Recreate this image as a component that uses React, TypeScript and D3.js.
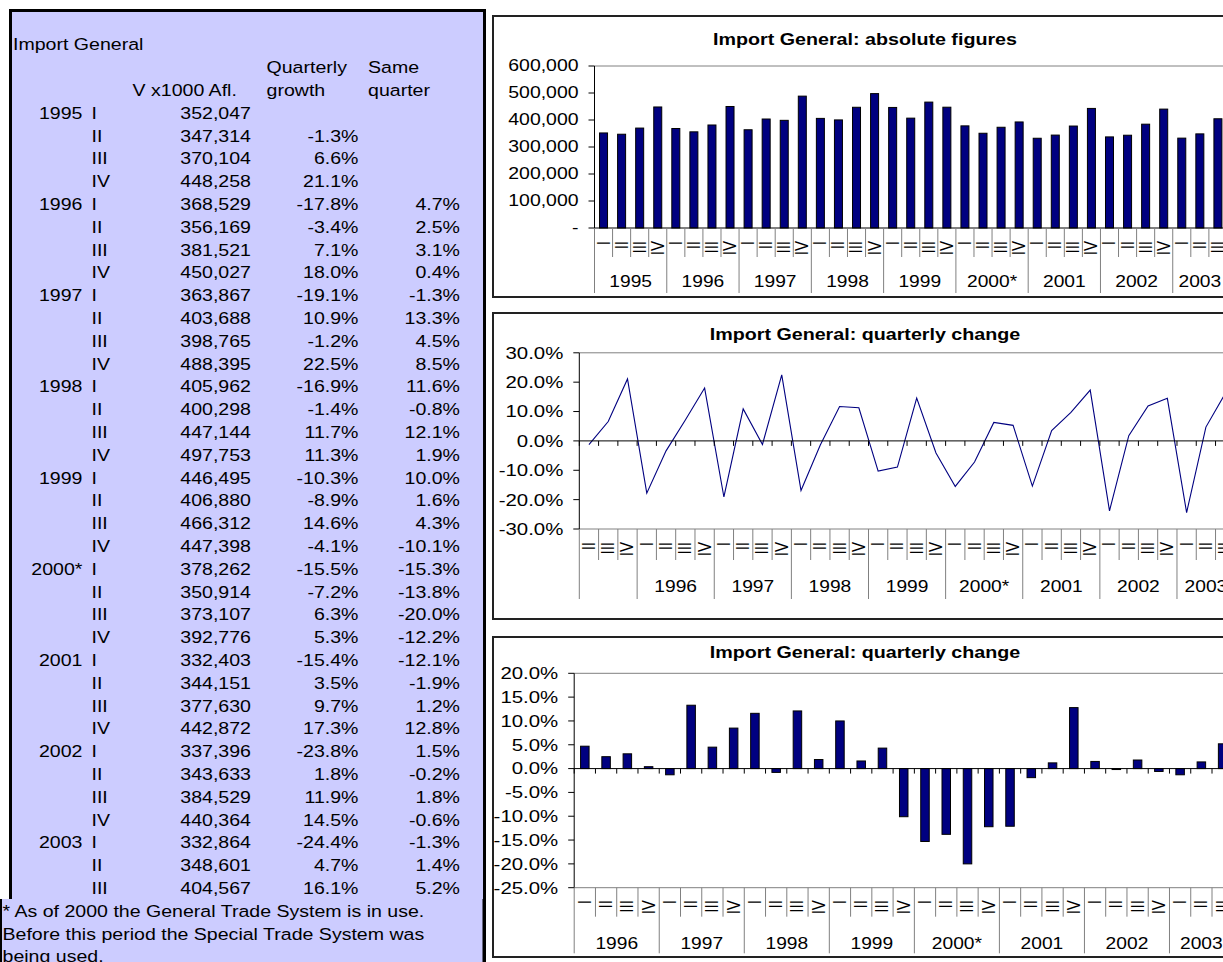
import React from 'react';
import * as d3 from 'd3';

// quarters 1995 I .. 2003 III
const yearLabels = ['1995', '1996', '1997', '1998', '1999', '2000*', '2001', '2002', '2003'];
const quarterLabels = ['I', 'II', 'III', 'IV'];

const importValues = [
  352047, 347314, 370104, 448258, 368529, 356169, 381521, 450027, 363867, 403688, 398765, 488395,
  405962, 400298, 447144, 497753, 446495, 406880, 466312, 447398, 378262, 350914, 373107, 392776,
  332403, 344151, 377630, 442872, 337396, 343633, 384529, 440364, 332864, 348601, 404567,
];
const quarterlyGrowth = [
  null, -1.3, 6.6, 21.1, -17.8, -3.4, 7.1, 18.0, -19.1, 10.9, -1.2, 22.5,
  -16.9, -1.4, 11.7, 11.3, -10.3, -8.9, 14.6, -4.1, -15.5, -7.2, 6.3, 5.3,
  -15.4, 3.5, 9.7, 17.3, -23.8, 1.8, 11.9, 14.5, -24.4, 4.7, 16.1,
];
const sameQuarter = [
  null, null, null, null, 4.7, 2.5, 3.1, 0.4, -1.3, 13.3, 4.5, 8.5,
  11.6, -0.8, 12.1, 1.9, 10.0, 1.6, 4.3, -10.1, -15.3, -13.8, -20.0, -12.2,
  -12.1, -1.9, 1.2, 12.8, 1.5, -0.2, 1.8, -0.6, -1.3, 1.4, 5.2,
];

const valueTicks = [0, 100000, 200000, 300000, 400000, 500000, 600000];
const growthTicks = [-30, -20, -10, 0, 10, 20, 30];
const sameTicks = [-25, -20, -15, -10, -5, 0, 5, 10, 15, 20];

const footnote = [
  '* As of 2000 the General Trade System is in use.',
  'Before this period the Special Trade System was',
  'being used.',
];

const FONT = "'Liberation Sans', Arial, Helvetica, sans-serif";
const SX = 1.2; // the picture is stretched sideways
const NAVY = '#000080';
const LAVENDER = '#CCCCFF';
const GRID = '#808080';

const periods = importValues.map((_, i) => ({ i, year: Math.floor(i / 4), q: i % 4 }));

const locale = d3.formatLocale({ decimal: '.', thousands: ',', grouping: [3], currency: ['', ''], minus: '-' });
const fmtNum = locale.format(',');
const fmtPct = (v: number) => locale.format('.1f')(v) + '%';

function Txt({ x, y, anchor = 'start', size = 16.3, bold = false, rotate = 0, children }: any) {
  return (
    <text
      transform={`translate(${x},${y}) scale(${SX},1)${rotate ? ` rotate(${rotate})` : ''}`}
      textAnchor={anchor}
      dominantBaseline="central"
      fontFamily={FONT}
      fontSize={size}
      fontWeight={bold ? 'bold' : 'normal'}
      fill="#000"
    >
      {children}
    </text>
  );
}

function Table() {
  const rowY = (i: number) => 113.4 + i * 22.8;
  return (
    <g>
      <rect x={10.5} y={10.5} width={474} height={1000} fill={LAVENDER} stroke="#000" strokeWidth={3} />
      <Txt x={13} y={45}>Import General</Txt>
      <Txt x={266.5} y={68}>Quarterly</Txt>
      <Txt x={368} y={68}>Same</Txt>
      <Txt x={132.5} y={91}>V x1000 Afl.</Txt>
      <Txt x={266.5} y={91}>growth</Txt>
      <Txt x={368} y={91}>quarter</Txt>
      {periods.map((p) => (
        <g key={p.i}>
          {p.q === 0 && <Txt x={82.5} y={rowY(p.i)} anchor="end">{yearLabels[p.year]}</Txt>}
          <Txt x={91.5} y={rowY(p.i)}>{quarterLabels[p.q]}</Txt>
          <Txt x={251} y={rowY(p.i)} anchor="end">{fmtNum(importValues[p.i])}</Txt>
          {quarterlyGrowth[p.i] != null && (
            <Txt x={358.5} y={rowY(p.i)} anchor="end">{fmtPct(quarterlyGrowth[p.i] as number)}</Txt>
          )}
          {sameQuarter[p.i] != null && (
            <Txt x={460} y={rowY(p.i)} anchor="end">{fmtPct(sameQuarter[p.i] as number)}</Txt>
          )}
        </g>
      ))}
      <rect x={1} y={899} width={484} height={80} fill={LAVENDER} />
      <line x1={1} x2={1} y1={899} y2={962} stroke="#000" strokeWidth={2} />
      <line x1={484} x2={484} y1={899} y2={962} stroke="#000" strokeWidth={3} />
      {footnote.map((t, k) => (
        <Txt key={k} x={2.5} y={911.4 + k * 22.8}>{t}</Txt>
      ))}
    </g>
  );
}

interface ChartProps {
  top: number;
  bottom: number;
  title: string;
  titleY: number;
  first: number;
  values: (number | null)[];
  domain: [number, number];
  ticks: number[];
  tickFmt: (v: number) => string;
  tickSize: number;
  x0: number;
  cw: number;
  plotTop: number;
  plotBottom: number;
  kind: 'bar' | 'line';
  barW: number;
  shortLen: number;
  longLen: number;
  labelDy: number;
  yearDy: number;
}

function Chart(c: ChartProps) {
  const idx = periods.filter((p) => p.i >= c.first);
  const n = idx.length;
  const x = d3
    .scaleBand()
    .domain(idx.map((p) => String(p.i)))
    .range([c.x0, c.x0 + n * c.cw])
    .padding(0);
  const y = d3.scaleLinear().domain(c.domain).range([c.plotBottom, c.plotTop]);
  const cx = (i: number) => (x(String(i)) as number) + x.bandwidth() / 2;
  const zeroY = y(0);
  const axisY = c.plotBottom;
  const right = c.x0 + n * c.cw;

  const line = d3
    .line<any>()
    .x((p) => cx(p.i))
    .y((p) => y(c.values[p.i] as number));

  const groups = d3.groups(idx, (p) => p.year);

  return (
    <g>
      <rect x={493} y={c.top} width={800} height={c.bottom - c.top} fill="#fff" stroke="#222" strokeWidth={2} />
      <Txt x={865} y={c.titleY} anchor="middle" size={16.4} bold>{c.title}</Txt>
      <line x1={c.x0} x2={right} y1={c.plotTop} y2={c.plotTop} stroke={GRID} />
      <line x1={right} x2={right} y1={c.plotTop} y2={c.plotBottom} stroke={GRID} />
      {c.ticks.map((t) => (
        <g key={t}>
          <line x1={c.x0 - 6} x2={c.x0} y1={y(t)} y2={y(t)} stroke="#000" />
          <Txt x={c.x0 - 16} y={y(t)} anchor="end" size={c.tickSize}>{c.tickFmt(t)}</Txt>
        </g>
      ))}
      {c.kind === 'bar' &&
        idx.map((p) => {
          const v = c.values[p.i] as number;
          return (
            <rect
              key={p.i}
              x={cx(p.i) - c.barW / 2}
              width={c.barW}
              y={Math.min(y(v), zeroY)}
              height={Math.abs(y(v) - zeroY)}
              fill={NAVY}
              stroke="#000"
              strokeWidth={1}
            />
          );
        })}
      {c.kind === 'line' && <path d={line(idx) as string} fill="none" stroke={NAVY} strokeWidth={1.1} />}
      {axisY !== zeroY && (
        <line x1={c.x0} x2={right} y1={axisY} y2={axisY} stroke={GRID} />
      )}
      {axisY !== zeroY &&
        d3.range(n + 1).map((k) => (
          <line key={k} x1={c.x0 + k * c.cw} x2={c.x0 + k * c.cw} y1={zeroY} y2={zeroY + 5} stroke="#000" />
        ))}
      <line x1={c.x0} x2={right} y1={zeroY} y2={zeroY} stroke="#000" />
      <line x1={c.x0} x2={c.x0} y1={c.plotTop} y2={c.plotBottom} stroke="#000" />
      {d3.range(n + 1).map((k) => {
        const isLong = k === 0 || k === n || idx[k].q === 0;
        const bx = c.x0 + k * c.cw;
        return (
          <line key={k} x1={bx} x2={bx} y1={axisY} y2={axisY + (isLong ? c.longLen : c.shortLen)} stroke={GRID} />
        );
      })}
      {idx.map((p) => (
        <Txt key={p.i} x={cx(p.i)} y={axisY + c.labelDy} anchor="end" size={15} rotate={-90}>
          {quarterLabels[p.q]}
        </Txt>
      ))}
      {groups.map(([yr, ps]) =>
        ps.some((p) => p.q === 0) ? (
          <Txt key={yr} x={d3.mean(ps, (p) => cx(p.i)) as number} y={axisY + c.yearDy} anchor="middle" size={16}>
            {yearLabels[yr]}
          </Txt>
        ) : null
      )}
    </g>
  );
}

export default function App() {
  return (
    <svg width={1223} height={962} style={{ position: 'absolute', left: 0, top: 0, background: '#fff' }}>
      <Table />
      <Chart
        top={16}
        bottom={297}
        title="Import General: absolute figures"
        titleY={39.5}
        first={0}
        values={importValues}
        domain={[0, 600000]}
        ticks={valueTicks}
        tickFmt={(v) => (v === 0 ? '- ' : fmtNum(v))}
        tickSize={16.2}
        x0={594.5}
        cw={18.07}
        plotTop={66}
        plotBottom={228}
        kind="bar"
        barW={8}
        shortLen={29}
        longLen={65}
        labelDy={13}
        yearDy={54}
      />
      <Chart
        top={313}
        bottom={619}
        title="Import General: quarterly change"
        titleY={335}
        first={1}
        values={quarterlyGrowth}
        domain={[-30, 30]}
        ticks={growthTicks}
        tickFmt={fmtPct}
        tickSize={17}
        x0={579.3}
        cw={19.28}
        plotTop={352.8}
        plotBottom={529}
        kind="line"
        barW={0}
        shortLen={31}
        longLen={70}
        labelDy={13}
        yearDy={58}
      />
      <Chart
        top={637}
        bottom={957}
        title="Import General: quarterly change"
        titleY={652.3}
        first={4}
        values={sameQuarter}
        domain={[-25, 20]}
        ticks={sameTicks}
        tickFmt={fmtPct}
        tickSize={17}
        x0={574.2}
        cw={21.26}
        plotTop={673.3}
        plotBottom={887.7}
        kind="bar"
        barW={8.5}
        shortLen={29}
        longLen={65.6}
        labelDy={12.5}
        yearDy={55.6}
      />
    </svg>
  );
}
